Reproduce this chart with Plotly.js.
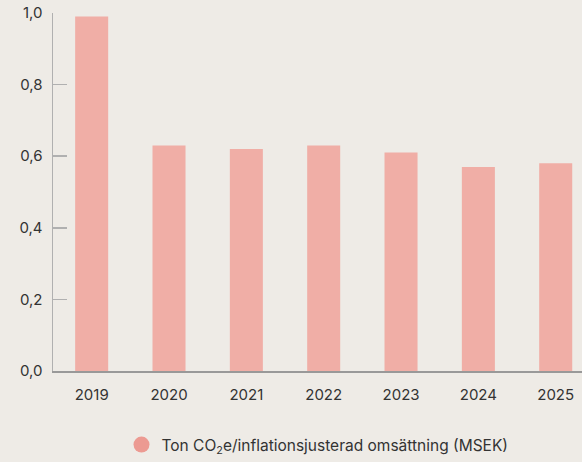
<!DOCTYPE html>
<html>
<head>
<meta charset="utf-8">
<script src="https://cdn.plot.ly/plotly-3.0.1.min.js"></script>
<style>
  html, body { margin: 0; padding: 0; background: #eeebe6; }
  #chart { width: 582px; height: 462px; }
</style>
</head>
<body>
<div id="chart"></div>
<script>
var years = ['2019', '2020', '2021', '2022', '2023', '2024', '2025'];
var intensity = [0.99, 0.63, 0.62, 0.63, 0.61, 0.57, 0.58];
var seriesName = 'Ton CO<sub>2</sub>e/inflationsjusterad omsättning (MSEK)';

var barColor = '#f0aea6';

var bars = {
  x: years,
  y: intensity,
  type: 'bar',
  marker: {color: barColor},
  showlegend: false,
  hoverinfo: 'x+y'
};

// legend entry drawn with a round marker, like the original
var legendDot = {
  x: [years[0]],
  y: [null],
  type: 'scatter',
  mode: 'markers',
  name: seriesName,
  marker: {color: '#ec9a92', size: 18, symbol: 'circle'}
};

var layout = {
  width: 582,
  height: 462,
  paper_bgcolor: '#eeebe6',
  plot_bgcolor: '#eeebe6',
  separators: ',.',
  font: {family: 'Inter, sans-serif', size: 15, color: '#333333'},
  margin: {l: 53, r: 0, t: 13, b: 89},
  bargap: 0.573,
  xaxis: {
    type: 'category',
    range: [-0.5, 6.34],
    showline: true,
    linecolor: '#999999',
    linewidth: 1.5,
    ticks: '',
    showgrid: false,
    zeroline: false,
    ticklabelstandoff: 9,
    tickfont: {size: 15, color: '#333333'}
  },
  yaxis: {
    range: [0, 1.0],
    tickvals: [0, 0.2, 0.4, 0.6, 0.8, 1.0],
    tickformat: '.1f',
    showline: true,
    linecolor: '#b0b0b0',
    linewidth: 1.5,
    ticks: 'inside',
    ticklen: 14,
    tickcolor: '#b0b0b0',
    tickwidth: 1.5,
    showgrid: false,
    zeroline: false,
    ticklabelstandoff: 6,
    tickfont: {size: 15, color: '#333333'}
  },
  showlegend: true,
  legend: {
    orientation: 'h',
    x: 0.5,
    xanchor: 'center',
    y: -0.16,
    yanchor: 'top',
    font: {size: 15.5, color: '#333333'},
    bgcolor: 'rgba(0,0,0,0)'
  }
};

Plotly.newPlot('chart', [bars, legendDot], layout, {displayModeBar: false, staticPlot: true});
</script>
</body>
</html>
